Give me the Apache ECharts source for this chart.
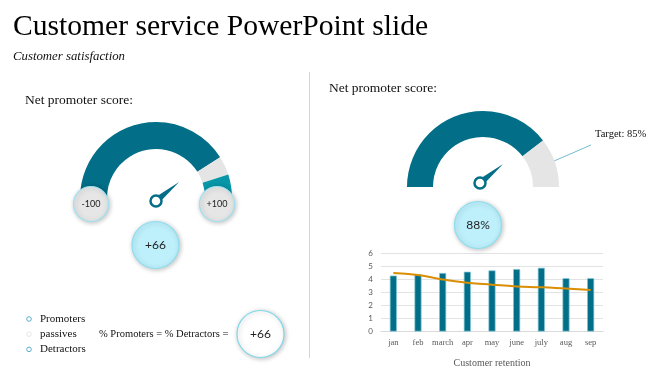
<!DOCTYPE html>
<html><head><meta charset="utf-8">
<script src="https://cdn.jsdelivr.net/npm/echarts@6/dist/echarts.min.js"></script>
<style>html,body{margin:0;padding:0;background:#fff}#c{width:670px;height:376px}</style>
</head><body><div id="c"></div>
<script>
const titleText = 'Customer service PowerPoint slide';
const subtitleText = 'Customer satisfaction';
const panelTitle = 'Net promoter score:';
const npsNames = ['Promoters', 'passives', 'Detractors'];
const npsSegments = [82, 8, 10];
const npsScaleLabels = ['-100', '+100'];
const npsScore = '+66';
const formulaText = '% Promoters = % Detractors =';
const targetSegments = [79, 21];
const targetLabel = 'Target: 85%';
const actualLabel = '88%';
const needleValues = [78, 78];
const categories = ['jan', 'feb', 'march', 'apr', 'may', 'june', 'july', 'aug', 'sep'];
const retentionBars = [4.3, 4.4, 4.5, 4.6, 4.7, 4.8, 4.9, 4.1, 4.1];
const retentionLine = [4.5, 4.35, 4.0, 3.75, 3.6, 3.47, 3.4, 3.3, 3.2];
const retentionTitle = 'Customer retention';

const DARK = '#036e87', LIGHT = '#0797a8', GRAY = '#e5e5e5';
const SERIF = 'Liberation Serif';
const SANS = 'Lato';
const chart = echarts.init(document.getElementById('c'), null, {renderer: 'canvas'});

function halfPie(center, radius, values, colors) {
  const data = values.map((v, i) => ({value: v, itemStyle: {color: colors[i]}}));
  const sum = values.reduce((a, b) => a + b, 0);
  data.push({value: sum, itemStyle: {color: 'rgba(0,0,0,0)'}});
  return {type: 'pie', center, radius, startAngle: 180, clockwise: true, silent: true,
    label: {show: false}, labelLine: {show: false}, data, z: 2, animation: false};
}
function needle(center, value) {
  return {type: 'gauge', center, radius: 30, startAngle: 180, endAngle: 0, min: 0, max: 100,
    axisLine: {show: false}, axisTick: {show: false}, splitLine: {show: false}, axisLabel: {show: false},
    detail: {show: false}, title: {show: false},
    pointer: {icon: 'triangle', length: 30, width: 7, itemStyle: {color: DARK}},
    anchor: {show: true, showAbove: true, size: 11, icon: 'circle',
      itemStyle: {color: '#fff', borderColor: DARK, borderWidth: 2.5}},
    data: [{value}], z: 5, animation: false};
}
const shadow = {shadowBlur: 5, shadowColor: 'rgba(0,0,0,0.25)', shadowOffsetX: 1, shadowOffsetY: 1};
function bubble(cx, cy, r, fill, stroke, text, size, family) {
  return {type: 'group', z: 20, children: [
    {type: 'circle', shape: {cx, cy, r}, style: Object.assign({fill, stroke, lineWidth: 1.2}, shadow), z: 20},
    {type: 'text', x: cx, y: cy, z: 21, style: {text, fill: '#222', font: size + 'px ' + family, align: 'center', verticalAlign: 'middle'}}
  ]};
}
function txt(x, y, text, size, opts) {
  return {type: 'text', x, y, z: 20, style: Object.assign({text, fill: '#111', font: size + 'px "' + SERIF + '"', verticalAlign: 'middle'}, opts || {})};
}

const graphics = [
  txt(13, 27, titleText, 29.6, {fill: '#000'}),
  txt(13, 57, subtitleText, 12.8, {font: 'italic 12.8px "' + SERIF + '"'}),
  {type: 'line', shape: {x1: 309.5, y1: 72, x2: 309.5, y2: 358}, style: {stroke: '#d6d6d6', lineWidth: 1}},
  txt(25, 100, panelTitle, 13.5),
  txt(329, 88, panelTitle, 13.5),
  bubble(91, 204, 17.5, '#e6e6e6', '#9fe1f0', npsScaleLabels[0], 9, SANS),
  bubble(217, 204, 17.5, '#e6e6e6', '#9fe1f0', npsScaleLabels[1], 9, SANS),
  bubble(155.5, 245, 23.5, '#bdf0fb', '#8ddff0', npsScore, 12, SANS),
  bubble(478, 225, 23.5, '#bdf0fb', '#8ddff0', actualLabel, 12, SANS),
  bubble(260.5, 334, 23.5, '#ffffff', '#7fd9ec', npsScore, 12, SANS),
  {type: 'line', shape: {x1: 554, y1: 161, x2: 591, y2: 145}, style: {stroke: '#72bdd0', lineWidth: 1}},
  txt(595, 134, targetLabel, 10.5),
  txt(99, 334, formulaText, 10.5)
];
const legendColors = ['#5aaecb', '#e6e6e6', '#5aaecb'];
npsNames.forEach((n, i) => {
  const y = 319 + i * 15.2;
  graphics.push({type: 'circle', z: 20, shape: {cx: 29, cy: y, r: 2.3}, style: {fill: '#fff', stroke: legendColors[i], lineWidth: 1}});
  graphics.push(txt(40, y, n, 11));
});

chart.setOption({
  animation: false,
  graphic: graphics,
  grid: {left: 381, right: 67, top: 253.5, bottom: 44.5, containLabel: false},
  xAxis: {type: 'category', data: categories,
    axisLine: {lineStyle: {color: '#d9d9d9'}}, axisTick: {show: false},
    axisLabel: {color: '#595959', fontFamily: SERIF, fontSize: 8.5, margin: 7, interval: 0},
    name: retentionTitle, nameLocation: 'middle', nameGap: 27,
    nameTextStyle: {color: '#595959', fontFamily: SERIF, fontSize: 10}},
  yAxis: {type: 'value', min: 0, max: 6, interval: 1,
    axisLine: {show: false}, axisTick: {show: false},
    axisLabel: {color: '#595959', fontFamily: SANS, fontSize: 8, margin: 8},
    splitLine: {lineStyle: {color: '#e3e3e3'}}},
  series: [
    halfPie([156, 198], [49, 76], npsSegments, [DARK, GRAY, LIGHT]),
    halfPie([483, 187], [50, 76], targetSegments, [DARK, GRAY]),
    needle([156, 201], needleValues[0]),
    needle([480, 183], needleValues[1]),
    {type: 'bar', data: retentionBars, barWidth: 7,
      itemStyle: {color: DARK, borderColor: '#7cc4d4', borderWidth: 0.7}},
    {type: 'line', data: retentionLine, smooth: true, symbol: 'none',
      lineStyle: {color: '#d98e04', width: 2}}
  ]
});
</script></body></html>
